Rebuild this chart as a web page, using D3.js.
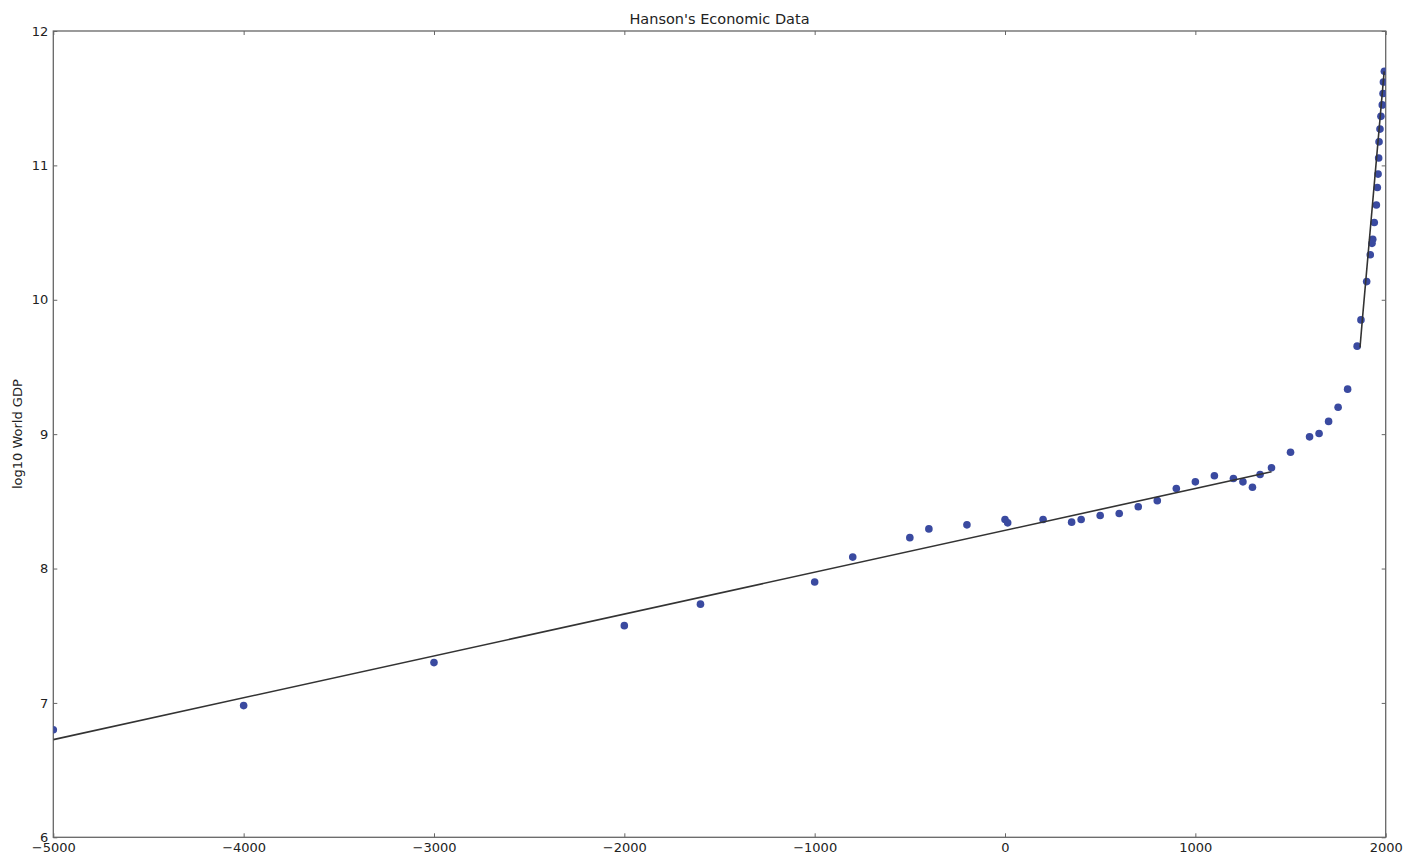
<!DOCTYPE html>
<html>
<head>
<meta charset="utf-8">
<script src="https://cdn.jsdelivr.net/npm/d3@7"></script>
<style>
  body { margin: 0; background: #fff; }
  text { font-family: "DejaVu Sans", sans-serif; fill: #222; }
  .axis path { stroke: none; }
  .axis line { stroke: #666; }
</style>
</head>
<body>
<div id="chart"></div>
<script>
const years = [-5000, -4000, -3000, -2000, -1600, -1000, -800, -500, -400, -200,
  0, 14, 200, 350, 400, 500, 600, 700, 800, 900, 1000, 1100, 1200, 1250, 1300,
  1340, 1400, 1500, 1600, 1650, 1700, 1750, 1800, 1850, 1870, 1900, 1919, 1928,
  1932, 1940, 1951, 1956, 1960, 1963, 1965, 1970, 1975, 1982, 1986, 1988, 1993];
const logGdp = [6.80, 6.98, 7.30, 7.575, 7.735, 7.90, 8.085, 8.23, 8.295, 8.325,
  8.365, 8.34, 8.365, 8.345, 8.365, 8.395, 8.41, 8.46, 8.505, 8.595, 8.645, 8.69,
  8.67, 8.645, 8.605, 8.70, 8.75, 8.865, 8.98, 9.005, 9.095, 9.20, 9.335, 9.655,
  9.85, 10.135, 10.335, 10.42, 10.45, 10.575, 10.705, 10.835, 10.935, 11.055,
  11.175, 11.27, 11.365, 11.45, 11.535, 11.62, 11.70];

// the two fitted segments
const fitYears1 = [-5000, 1400];
const fitGdp1 = [6.727, 8.72];
const fitYears2 = [1865, 1876, 1992];
const fitGdp2 = [9.645, 9.83, 11.70];

const xTicks = [-5000, -4000, -3000, -2000, -1000, 0, 1000, 2000];
const yTicks = [6, 7, 8, 9, 10, 11, 12];

var margin = {top: 31, right: 19.3, bottom: 19.7, left: 53.3},
  width = 1405 - margin.left - margin.right,
  height = 857 - margin.top - margin.bottom;

var svg = d3.select("#chart")
  .append("svg")
  .attr("width", 1405)
  .attr("height", 857);

var g = svg.append("g")
  .attr("transform", "translate(" + margin.left + "," + margin.top + ")");

var xScale = d3.scaleLinear().domain([-5000, 2000]).range([0, width]);
var yScale = d3.scaleLinear().domain([6, 12]).range([height, 0]);

g.append("clipPath").attr("id", "plotclip")
  .append("rect").attr("width", width).attr("height", height);

var fmt = function(d) { return d < 0 ? "\u2212" + Math.abs(d) : String(d); };

// axes on all four sides, ticks pointing inward
g.append("g").attr("class", "axis")
  .attr("transform", "translate(0," + height + ")")
  .call(d3.axisBottom(xScale).tickValues(xTicks).tickFormat(fmt).tickSize(-4).tickPadding(5))
  .selectAll("text").style("font-size", "13px");
g.append("g").attr("class", "axis")
  .call(d3.axisTop(xScale).tickValues(xTicks).tickFormat("").tickSize(-4));
g.append("g").attr("class", "axis")
  .call(d3.axisLeft(yScale).tickValues(yTicks).tickFormat(d3.format("d")).tickSize(-4).tickPadding(5))
  .selectAll("text").style("font-size", "13px");
g.append("g").attr("class", "axis")
  .attr("transform", "translate(" + width + ",0)")
  .call(d3.axisRight(yScale).tickValues(yTicks).tickFormat("").tickSize(-4));

// frame
g.append("rect")
  .attr("width", width).attr("height", height)
  .attr("fill", "none").attr("stroke", "#666").attr("stroke-width", 1.3);

var line = d3.line()
  .x(function(d) { return xScale(d[0]); })
  .y(function(d) { return yScale(d[1]); });

var plot = g.append("g").attr("clip-path", "url(#plotclip)");

plot.selectAll(".dot")
  .data(d3.zip(years, logGdp))
  .enter().append("circle")
  .attr("class", "dot")
  .attr("cx", function(d) { return xScale(d[0]); })
  .attr("cy", function(d) { return yScale(d[1]); })
  .attr("r", 3.8)
  .attr("fill", "#3a4aa0");

[d3.zip(fitYears1, fitGdp1), d3.zip(fitYears2, fitGdp2)].forEach(function(seg) {
  plot.append("path")
    .datum(seg)
    .attr("d", line)
    .attr("fill", "none")
    .attr("stroke", "#333")
    .attr("stroke-width", 1.6);
});

// title and y label
svg.append("text")
  .attr("x", margin.left + width / 2).attr("y", 24)
  .attr("text-anchor", "middle")
  .style("font-size", "14.5px")
  .text("Hanson's Economic Data");

svg.append("text")
  .attr("transform", "translate(22," + (margin.top + height / 2) + ") rotate(-90)")
  .attr("text-anchor", "middle")
  .style("font-size", "13px")
  .text("log10 World GDP");
</script>
</body>
</html>
